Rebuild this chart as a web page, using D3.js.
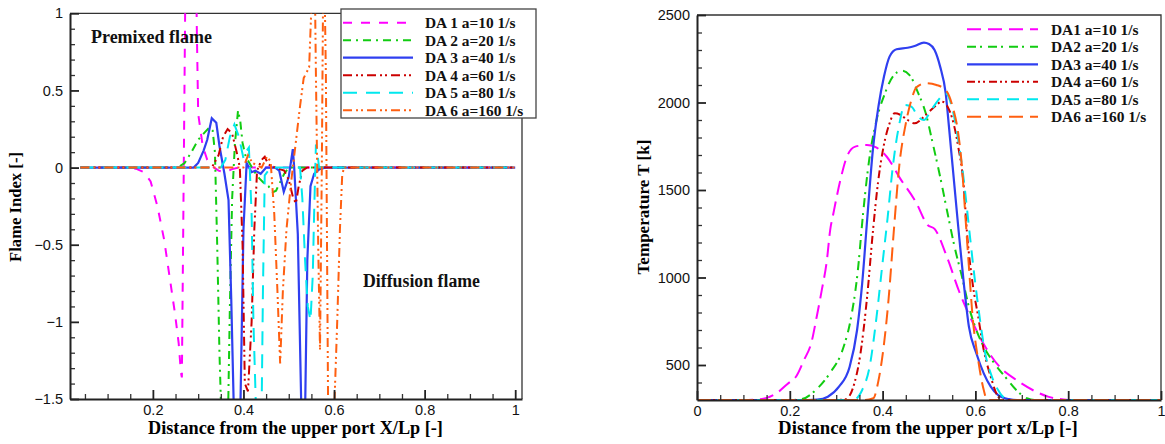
<!DOCTYPE html>
<html>
<head>
<meta charset="utf-8">
<script src="https://cdn.jsdelivr.net/npm/d3@7"></script>
<style>
  body { margin: 0; background: #fff; }
  svg { display: block; }
</style>
</head>
<body>
<div id="chart"></div>
<script>
// ---- data ----
const fiLabels = ["DA 1 a=10 1/s", "DA 2 a=20 1/s", "DA 3 a=40 1/s", "DA 4 a=60 1/s", "DA 5 a=80 1/s", "DA 6 a=160 1/s"];
const tLabels = ["DA1 a=10 1/s", "DA2 a=20 1/s", "DA3 a=40 1/s", "DA4 a=60 1/s", "DA5 a=80 1/s", "DA6 a=160 1/s"];

const fiXTicks = [0.2, 0.4, 0.6, 0.8, 1];
const fiYTicks = [-1.5, -1, -0.5, 0, 0.5, 1];
const tXTicks = [0, 0.2, 0.4, 0.6, 0.8, 1];
const tYTicks = [500, 1000, 1500, 2000, 2500];

// flame index [x/Lp, FI]
const fiDA1 = [[0.04,0],[0.15,0],[0.165,-0.01],[0.18,-0.03],[0.195,-0.09],[0.21,-0.25],[0.225,-0.47],[0.237,-0.71],[0.249,-0.95],[0.257,-1.14],[0.262,-1.33],[0.264,-1.36],[0.267,-0.4],[0.27,0.6],[0.273,1.6],[0.294,1.6],[0.297,0.9],[0.3,0.35],[0.31,0.14],[0.32,0.05],[0.33,0.01],[0.345,-0.02],[0.36,-0.03],[0.375,-0.01],[0.39,0],[1,0]];
const fiDA2 = [[0.04,0],[0.255,0],[0.27,0.03],[0.285,0.1],[0.3,0.18],[0.315,0.23],[0.325,0.26],[0.332,0.24],[0.337,0.1],[0.342,-0.5],[0.347,-1.2],[0.351,-1.6],[0.366,-1.6],[0.37,-0.9],[0.375,-0.2],[0.381,0.15],[0.388,0.37],[0.393,0.3],[0.398,0.16],[0.405,0.07],[0.415,0.02],[0.425,-0.03],[0.435,-0.07],[0.445,-0.1],[0.455,-0.12],[0.465,-0.16],[0.472,-0.15],[0.48,-0.1],[0.49,-0.04],[0.5,0],[1,0]];
const fiDA3 = [[0.04,0],[0.29,0],[0.3,0.03],[0.312,0.11],[0.32,0.18],[0.33,0.32],[0.34,0.29],[0.347,0.14],[0.358,-0.04],[0.367,-0.21],[0.373,-0.85],[0.379,-1.6],[0.393,-1.6],[0.4,-0.4],[0.407,0.03],[0.418,-0.03],[0.426,-0.02],[0.438,-0.04],[0.45,0],[0.47,0],[0.479,-0.02],[0.489,-0.157],[0.5,-0.06],[0.509,0.12],[0.512,0],[0.52,-0.43],[0.528,-1.6],[0.536,-1.6],[0.541,-0.6],[0.548,-0.12],[0.556,-0.04],[0.568,-0.01],[0.58,0],[1,0]];
const fiDA4 = [[0.04,0],[0.33,0],[0.345,0.08],[0.355,0.2],[0.365,0.25],[0.375,0.22],[0.385,0.1],[0.392,0],[0.398,-0.5],[0.403,-1.4],[0.41,-1.45],[0.418,-1.0],[0.424,-0.4],[0.43,-0.02],[0.44,0.05],[0.447,0.07],[0.455,0.02],[0.47,0],[0.49,-0.02],[0.5,-0.08],[0.51,-0.2],[0.516,-0.23],[0.522,-0.12],[0.53,-0.02],[0.54,0],[1,0]];
const fiDA5 = [[0.04,0],[0.35,0],[0.36,0.05],[0.37,0.2],[0.38,0.28],[0.39,0.2],[0.4,0.06],[0.405,0.1],[0.412,0.13],[0.418,-0.3],[0.422,-1.0],[0.428,-1.6],[0.44,-1.6],[0.443,-0.8],[0.447,-0.05],[0.46,0],[0.525,0],[0.53,-0.2],[0.536,-0.6],[0.542,-0.9],[0.548,-0.99],[0.553,-0.7],[0.556,-0.3],[0.56,0.15],[0.563,0.1],[0.567,0],[1,0]];
const fiDA6 = [[0.04,0],[0.4,0],[0.41,0.08],[0.42,0.03],[0.44,0],[0.452,0.07],[0.46,0.04],[0.468,-0.3],[0.475,-0.8],[0.481,-1.27],[0.487,-0.8],[0.495,-0.4],[0.505,-0.1],[0.515,0.15],[0.525,0.4],[0.533,0.58],[0.545,0.65],[0.552,1.2],[0.556,1.6],[0.56,0.6],[0.565,-0.5],[0.569,-1.18],[0.573,0],[0.577,1.6],[0.582,0.6],[0.587,-1.6],[0.6,-1.6],[0.607,-1.0],[0.613,-0.4],[0.618,-0.05],[0.622,0],[1,0]];

// temperature [x/Lp, T]
const tDA1 = [[0,300],[0.1,300],[0.12,301],[0.15,312],[0.172,340],[0.195,392],[0.215,440],[0.23,525],[0.247,633],[0.258,776],[0.269,929],[0.28,1100],[0.287,1271],[0.294,1367],[0.309,1557],[0.323,1690],[0.341,1748],[0.366,1757],[0.385,1745],[0.409,1690],[0.438,1565],[0.472,1430],[0.497,1300],[0.512,1278],[0.539,1115],[0.565,920],[0.592,755],[0.62,610],[0.652,490],[0.688,415],[0.727,352],[0.758,318],[0.79,303],[0.81,300],[1,300]];
const tDA2 = [[0,300],[0.2,300],[0.226,305],[0.256,357],[0.286,452],[0.316,604],[0.331,757],[0.346,1024],[0.358,1367],[0.371,1671],[0.387,1900],[0.405,2052],[0.422,2148],[0.442,2182],[0.458,2157],[0.477,2052],[0.493,1938],[0.508,1767],[0.524,1576],[0.54,1367],[0.555,1176],[0.571,1005],[0.586,833],[0.602,700],[0.618,604],[0.641,509],[0.664,433],[0.688,357],[0.711,310],[0.73,300],[1,300]];
const tDA3 = [[0,300],[0.24,300],[0.259,302],[0.282,319],[0.306,376],[0.329,490],[0.345,700],[0.356,966],[0.367,1340],[0.379,1728],[0.391,1976],[0.403,2148],[0.415,2262],[0.43,2304],[0.454,2313],[0.469,2323],[0.489,2342],[0.5,2334],[0.512,2300],[0.524,2205],[0.536,2052],[0.543,1862],[0.551,1633],[0.563,1290],[0.575,966],[0.586,719],[0.602,567],[0.618,452],[0.633,376],[0.649,328],[0.672,305],[0.69,300],[1,300]];
const tDA4 = [[0,300],[0.3,300],[0.321,305],[0.337,376],[0.352,560],[0.367,900],[0.379,1260],[0.39,1540],[0.402,1747],[0.415,1881],[0.426,1938],[0.438,1930],[0.454,1900],[0.469,1881],[0.493,1929],[0.512,1976],[0.528,2005],[0.54,1976],[0.551,1900],[0.563,1747],[0.575,1519],[0.582,1252],[0.594,966],[0.606,776],[0.618,586],[0.633,433],[0.649,319],[0.66,300],[1,300]];
const tDA5 = [[0,300],[0.32,300],[0.338,302],[0.356,357],[0.372,490],[0.387,776],[0.399,1062],[0.411,1347],[0.422,1633],[0.435,1862],[0.448,1986],[0.462,1976],[0.477,1919],[0.489,1900],[0.505,1957],[0.52,2014],[0.536,2052],[0.551,1957],[0.563,1786],[0.575,1557],[0.586,1290],[0.598,1005],[0.61,757],[0.621,567],[0.633,452],[0.649,357],[0.664,310],[0.68,300],[1,300]];
const tDA6 = [[0,300],[0.36,300],[0.38,310],[0.391,410],[0.403,620],[0.413,880],[0.424,1260],[0.436,1640],[0.45,1880],[0.462,2014],[0.473,2087],[0.493,2110],[0.516,2100],[0.536,2071],[0.551,1976],[0.563,1824],[0.571,1633],[0.579,1328],[0.586,1062],[0.594,776],[0.606,528],[0.618,357],[0.625,300],[1,300]];

const fiSeries = [fiDA1, fiDA2, fiDA3, fiDA4, fiDA5, fiDA6];
const tSeries = [tDA1, tDA2, tDA3, tDA4, tDA5, tDA6];

// ---- styles ----
const colors = ["#ff00ff", "#11cc11", "#2f3ff0", "#cc0000", "#00e8ee", "#ff5f10"];
const fiDash = ["9,9", "8,5,2,5", null, "9,4,2,3,2,4", "14,9", "9,4,2,3,2,4"];
const tDash = ["14,7", "9,4,2,6", null, "8,3,2,3,2,4", "12,8", "14,7"];

const serif = "'Liberation Serif', 'DejaVu Serif', serif";
const sans = "'Liberation Sans', Arial, sans-serif";

const svg = d3.select("#chart").append("svg")
    .attr("width", 1165)
    .attr("height", 444);

// shrink/grow font so a text fills a given width
function fitWidth(sel, width) {
    const w = sel.node().getComputedTextLength();
    const fs = parseFloat(sel.attr("font-size"));
    sel.attr("font-size", fs * width / w);
}

function drawPanel(cfg) {
    const x = d3.scaleLinear().domain(cfg.xDomain).range([cfg.left, cfg.right]);
    const y = d3.scaleLinear().domain(cfg.yDomain).range([cfg.bottom, cfg.top]);

    svg.append("clipPath").attr("id", cfg.id + "-clip")
        .append("rect")
        .attr("x", cfg.left).attr("y", cfg.top)
        .attr("width", cfg.right - cfg.left).attr("height", cfg.bottom - cfg.top);

    // frame top / right
    svg.append("path")
        .attr("d", `M${cfg.left},${cfg.top}H${cfg.right}V${cfg.bottom}`)
        .attr("fill", "none").attr("stroke", "#333").attr("stroke-width", 1.3);

    // curves
    const line = d3.line().x(d => x(d[0])).y(d => y(d[1])).curve(cfg.curve);
    const g = svg.append("g").attr("clip-path", `url(#${cfg.id}-clip)`);
    cfg.series.forEach((s, i) => {
        g.append("path")
            .datum(s)
            .attr("d", line)
            .attr("fill", "none")
            .attr("stroke", colors[i])
            .attr("stroke-width", i === 2 ? 2.2 : 2)
            .attr("stroke-dasharray", cfg.dash[i]);
    });

    // axes
    const xMinor = svg.append("g").attr("transform", `translate(0,${cfg.bottom})`)
        .call(d3.axisBottom(x).tickValues(cfg.xMinor).tickSize(-5).tickFormat(""));
    const yMinor = svg.append("g").attr("transform", `translate(${cfg.left},0)`)
        .call(d3.axisLeft(y).tickValues(cfg.yMinor).tickSize(-5).tickFormat(""));
    const xAxis = svg.append("g").attr("transform", `translate(0,${cfg.bottom})`)
        .call(d3.axisBottom(x).tickValues(cfg.xTicks).tickSizeInner(-9).tickSizeOuter(0).tickPadding(6)
            .tickFormat(d3.format("~g")));
    const yAxis = svg.append("g").attr("transform", `translate(${cfg.left},0)`)
        .call(d3.axisLeft(y).tickValues(cfg.yTicks).tickSizeInner(-9).tickSizeOuter(0).tickPadding(7)
            .tickFormat(d3.format("~g")));
    [xMinor, yMinor].forEach(a => {
        a.select(".domain").remove();
        a.selectAll("line").attr("stroke", "#333").attr("stroke-width", 1.3);
    });
    [xAxis, yAxis].forEach(a => {
        a.select(".domain").attr("stroke", "#222").attr("stroke-width", 2);
        a.selectAll("line").attr("stroke", "#222").attr("stroke-width", 1.8);
        a.selectAll("text").attr("font-family", sans).attr("font-size", 14.5).attr("fill", "#111");
    });

    // titles
    const xt = svg.append("text")
        .attr("x", cfg.xTitlePos[0]).attr("y", cfg.xTitlePos[1])
        .attr("text-anchor", "middle")
        .attr("font-family", serif).attr("font-weight", "bold").attr("font-size", 16)
        .text(cfg.xTitle);
    fitWidth(xt, cfg.xTitleWidth);
    const yt = svg.append("text")
        .attr("transform", `translate(${cfg.yTitlePos[0]},${cfg.yTitlePos[1]}) rotate(-90)`)
        .attr("text-anchor", "middle")
        .attr("font-family", serif).attr("font-weight", "bold").attr("font-size", 16)
        .text(cfg.yTitle);
    fitWidth(yt, cfg.yTitleWidth);

    // legend
    const lg = cfg.legend;
    if (lg.box) {
        svg.append("rect")
            .attr("x", lg.box[0]).attr("y", lg.box[1])
            .attr("width", lg.box[2]).attr("height", lg.box[3])
            .attr("fill", "#fff").attr("stroke", "#444").attr("stroke-width", 1.3);
    }
    const rows = svg.append("g");
    const texts = [];
    cfg.labels.forEach((lab, i) => {
        const yy = lg.y0 + i * lg.dy;
        rows.append("line")
            .attr("x1", lg.x1).attr("x2", lg.x2).attr("y1", yy).attr("y2", yy)
            .attr("stroke", colors[i])
            .attr("stroke-width", i === 2 ? 2.2 : 2)
            .attr("stroke-dasharray", cfg.dash[i]);
        texts.push(rows.append("text")
            .attr("x", lg.tx).attr("y", yy).attr("dy", "0.35em")
            .attr("font-family", serif).attr("font-weight", "bold").attr("font-size", 15)
            .attr("fill", "#111")
            .text(lab));
    });
    // same size for every row, capped so rows do not collide
    const longest = texts[texts.length - 1];
    const size = Math.min(15 * lg.textWidth / longest.node().getComputedTextLength(), 15.4);
    texts.forEach(t => t.attr("font-size", size));

    return { x, y };
}

const minorOf = (lo, hi, step, majors) =>
    d3.range(lo, hi + step / 2, step).map(v => +v.toFixed(4))
        .filter(v => !majors.some(m => Math.abs(m - v) < 1e-6));

// left: flame index
drawPanel({
    id: "fi",
    xDomain: [0.017, 1.015], yDomain: [-1.5, 1],
    left: 70, right: 522, top: 13.3, bottom: 399,
    xTicks: fiXTicks, yTicks: fiYTicks,
    xMinor: minorOf(0.05, 1, 0.05, fiXTicks),
    yMinor: minorOf(-1.4, 0.9, 0.1, fiYTicks),
    series: fiSeries, labels: fiLabels, dash: fiDash,
    curve: d3.curveLinear,
    xTitle: "Distance from the upper port X/Lp [-]", xTitlePos: [295.5, 434], xTitleWidth: 295,
    yTitle: "Flame Index [-]", yTitlePos: [21, 207], yTitleWidth: 110,
    legend: { box: [341, 9, 195, 109], y0: 22.7, dy: 17.5, x1: 343, x2: 413, tx: 425, textWidth: 108 }
});

// right: temperature
drawPanel({
    id: "temp",
    xDomain: [0, 1], yDomain: [300, 2500],
    left: 697, right: 1161, top: 15, bottom: 400,
    xTicks: tXTicks, yTicks: tYTicks,
    xMinor: minorOf(0.05, 0.95, 0.05, tXTicks),
    yMinor: minorOf(400, 2400, 100, tYTicks),
    series: tSeries, labels: tLabels, dash: tDash,
    curve: d3.curveMonotoneX,
    xTitle: "Distance from the upper port x/Lp [-]", xTitlePos: [928, 434], xTitleWidth: 300,
    yTitle: "Temperature T [k]", yTitlePos: [649, 207], yTitleWidth: 135,
    legend: { box: null, y0: 29.3, dy: 17.5, x1: 967, x2: 1038, tx: 1051, textWidth: 109 }
});

// annotations in the flame index panel
const pre = svg.append("text")
    .attr("x", 91).attr("y", 43)
    .attr("font-family", serif).attr("font-weight", "bold").attr("font-size", 16)
    .attr("fill", "#111")
    .text("Premixed flame");
fitWidth(pre, 121);
const dif = svg.append("text")
    .attr("x", 363).attr("y", 287)
    .attr("font-family", serif).attr("font-weight", "bold").attr("font-size", 16)
    .attr("fill", "#111")
    .text("Diffusion flame");
fitWidth(dif, 117);
</script>
</body>
</html>
